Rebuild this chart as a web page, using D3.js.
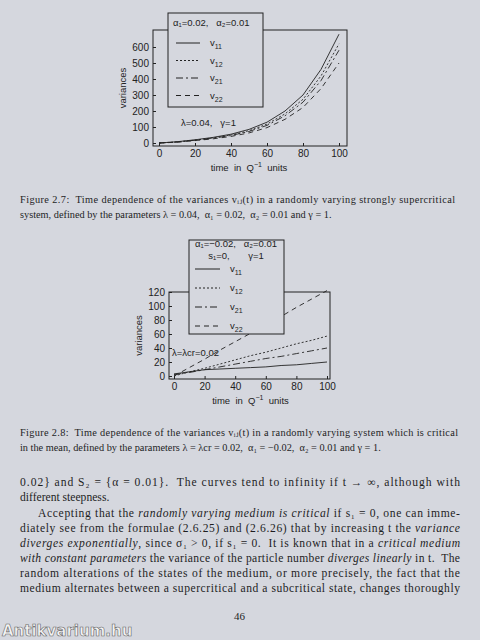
<!DOCTYPE html><html><head><meta charset="utf-8">
<script src="https://cdn.jsdelivr.net/npm/d3@7"></script>
<style>body{margin:0;background:#d5d7de}svg{display:block}text{white-space:pre}</style></head><body>
<svg id="s" width="480" height="640"></svg>
<script>
const t = [0,10,20,30,40,50,60,70,80,90,100];
const a11 = [0,8,20,35,55,85,130,200,300,460,680];
const a12 = [0,7,18,32,50,77,118,182,273,419,620];
const a21 = [0,6,17,30,47,72,110,170,255,390,580];
const a22 = [0,5,15,26,41,63,96,148,222,340,500];
const b11 = [3,6,9,10,11,12,13,15,16,18,20];
const b12 = [0,6,11,17,23,29,34,40,46,51,57];
const b21 = [2,5,9,13,17,21,25,28,32,36,40];
const b22 = [0,12,24,37,49,61,73,85,98,110,122];
const topTicksY = [0,100,200,300,400,500,600];
const botTicksY = [0,20,40,60,80,100,120];
const ticksX = [0,20,40,60,80,100];
const names = ["v11","v12","v21","v22"];
const dashes = [null,"2,2","7,3,2,3","5,4"];

const svg = d3.select("#s");
const ink="#222";
function chart(o){
  const g = svg.append("g");
  const x = d3.scaleLinear().domain([0,100]).range([o.x0,o.x1]);
  const y = d3.scaleLinear().domain([0,o.ymax]).range([o.y0,o.y1]);
  g.append("rect").attr("x",o.bx0).attr("y",o.by0).attr("width",o.bx1-o.bx0).attr("height",o.by1-o.by0).attr("fill","none").attr("stroke",ink).attr("stroke-width",1);
  const ax = d3.axisBottom(x).tickValues(ticksX).tickSize(-3).tickPadding(4);
  g.append("g").attr("transform",`translate(0,${o.by1})`).call(ax).call(s=>{s.select(".domain").remove();s.selectAll("line").attr("stroke",ink);s.selectAll("text").attr("fill",ink).style("font","10px 'Liberation Sans',sans-serif");});
  const ay = d3.axisLeft(y).tickValues(o.yt).tickSize(-3).tickPadding(4);
  g.append("g").attr("transform",`translate(${o.bx0},0)`).call(ay).call(s=>{s.select(".domain").remove();s.selectAll("line").attr("stroke",ink);s.selectAll("text").attr("fill",ink).style("font","10px 'Liberation Sans',sans-serif");});
  g.append("text").attr("transform",`translate(${o.bx0-27},${(o.by0+o.by1)/2}) rotate(-90)`).attr("text-anchor","middle").attr("fill",ink).style("font","9.5px 'Liberation Sans',sans-serif").text("variances");
  const xl = g.append("text").attr("x",(o.x0+o.x1)/2).attr("y",o.by1+25).attr("text-anchor","middle").attr("fill",ink).style("font","9.5px 'Liberation Sans',sans-serif");
  xl.append("tspan").text("time  in  Q");xl.append("tspan").attr("dy",-4).style("font-size","7px").text("−1");xl.append("tspan").attr("dy",4).text("  units");
  const line = d3.line().x((d,i)=>x(t[i])).y(d=>y(d));
  o.series.forEach((s,i)=>g.append("path").attr("d",line(s)).attr("fill","none").attr("stroke",ink).attr("stroke-width",0.9).attr("stroke-dasharray",dashes[i]));
  const L=o.leg;
  g.append("rect").attr("x",L.x0).attr("y",L.y0).attr("width",L.x1-L.x0).attr("height",L.y1-L.y0).attr("fill","#d5d7de").attr("stroke",ink);
  L.head.forEach((h,i)=>g.append("text").attr("x",L.hx).attr("y",L.hy+i*12).attr("fill",ink).attr("text-anchor",L.anchor).style("font","9.5px 'Liberation Sans',sans-serif").text(h));
  names.forEach((n,i)=>{
    const yy=L.iy+i*L.dy;
    g.append("line").attr("x1",L.sx0).attr("x2",L.sx1).attr("y1",yy).attr("y2",yy).attr("stroke",ink).attr("stroke-dasharray",dashes[i]);
    const tx=g.append("text").attr("x",L.sx1+10).attr("y",yy+3).attr("fill",ink).style("font","9.5px 'Liberation Sans',sans-serif");
    tx.append("tspan").text("v");tx.append("tspan").attr("dy",3).style("font-size","7px").text(n.slice(1));
  });
  g.append("text").attr("x",o.lab[0]).attr("y",o.lab[1]).attr("fill",ink).style("font","9.5px 'Liberation Sans',sans-serif").text(o.lab[2]);
}
chart({x0:159,x1:339,y0:143,y1:47,ymax:600,bx0:153,bx1:347,by0:30,by1:146,yt:topTicksY,series:[a11,a12,a21,a22],
  leg:{x0:168,x1:263,y0:13,y1:107,hx:173,hy:26,anchor:"start",head:["α₁=0.02,   α₂=0.01"],iy:43,dy:17.5,sx0:176,sx1:200},
  lab:[181,126,"λ=0.04,   γ=1"]});
chart({x0:174,x1:327,y0:376,y1:292,ymax:120,bx0:169,bx1:330,by0:292,by1:379,yt:botTicksY,series:[b11,b12,b21,b22],
  leg:{x0:189,x1:284,y0:240,y1:334,hx:236,hy:247,anchor:"middle",head:["α₁=−0.02,   α₂=0.01","s₁=0,       γ=1"],iy:269,dy:19,sx0:195,sx1:220},
  lab:[172,356,"λ=λcr=0.02"]});

const serif="'Liberation Serif','DejaVu Serif',serif";
function tl(x,y,parts,sz,w){
  const e=svg.append("text").attr("x",x).attr("y",y).attr("fill","#1e1e1e").style("font",`${sz}px ${serif}`);
  (Array.isArray(parts)?parts:[parts]).forEach((p,i)=>e.append("tspan").style("font-style",i%2?"italic":"normal").text(p));
  if(w)e.attr("textLength",w).attr("lengthAdjust","spacing");return e;}
tl(20,203,"Figure 2.7:  Time dependence of the variances vᵢⱼ(t) in a randomly varying strongly supercritical",10.3,435);
tl(20,218,"system, defined by the parameters λ = 0.04,  α₁ = 0.02,  α₂ = 0.01 and γ = 1.",10.3);
tl(20,436,"Figure 2.8:  Time dependence of the variances vᵢⱼ(t) in a randomly varying system which is critical",10.3,438);
tl(20,451,"in the mean, defined by the parameters λ = λcr = 0.02,  α₁ = −0.02,  α₂ = 0.01 and γ = 1.",10.3);
const para=[
 [20,486,"0.02} and S₂ = {α = 0.01}.  The curves tend to infinity if t → ∞, although with",440],
 [20,501,"different steepness.",0],
 [38,517,["Accepting that the ","randomly varying medium is critical"," if s₁ = 0, one can imme-"],422],
 [20,532,["diately see from the formulae (2.6.25) and (2.6.26) that by increasing t the ","variance"],440],
 [20,547,["","diverges exponentially",", since σ₁ > 0, if s₁ = 0.  It is known that in a ","critical medium"],440],
 [20,562,["","with constant parameters"," the variance of the particle number ","diverges linearly"," in t.  The"],440],
 [20,577,"random alterations of the states of the medium, or more precisely, the fact that the",440],
 [20,592,"medium alternates between a supercritical and a subcritical state, changes thoroughly",440]];
para.forEach(p=>tl(p[0],p[1],p[2],11.6,p[3]||null));
tl(234,620,"46",11);
svg.append("text").attr("x",2).attr("y",636).attr("fill","#f4f4f4").attr("stroke","#666").attr("stroke-width",0.6).style("font","bold 15px 'DejaVu Sans',sans-serif").text("Antikvarium.hu");
</script></body></html>
